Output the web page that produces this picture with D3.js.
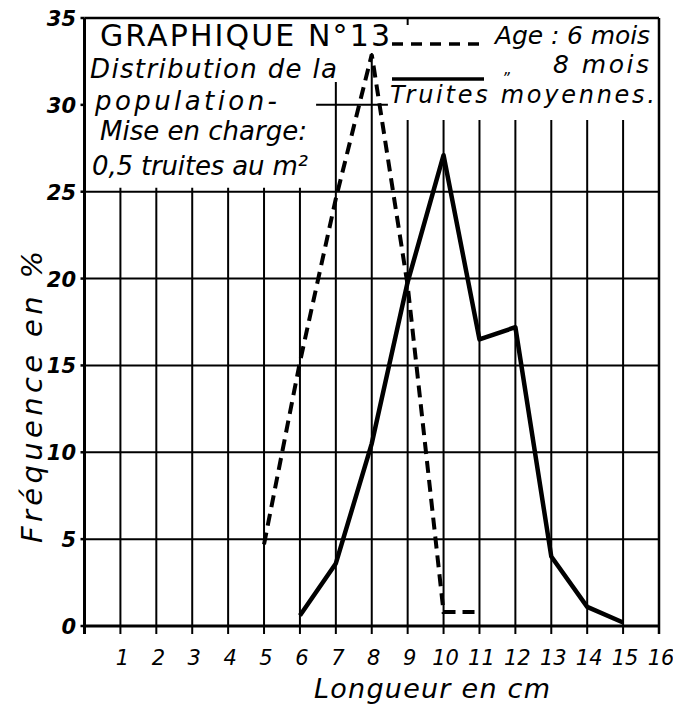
<!DOCTYPE html>
<html>
<head>
<meta charset="utf-8">
<script src="https://cdn.jsdelivr.net/npm/d3@7"></script>
<style>
  body { margin: 0; background: #fff; }
  text { font-family: "DejaVu Sans", sans-serif; fill: #000; }
</style>
</head>
<body>
<div id="chart"></div>
<script>
// data
const xTicks = [1, 2, 3, 4, 5, 6, 7, 8, 9, 10, 11, 12, 13, 14, 15, 16];
const yTicks = [0, 5, 10, 15, 20, 25, 30, 35];

// Age 6 mois (dashed)
const len6 = [5, 6, 7, 8, 9, 10, 11];
const freq6 = [4.7, 15.2, 24.6, 32.9, 19.6, 0.8, 0.8];

// Age 8 mois (solid)
const len8 = [6, 7, 8, 9, 10, 11, 12, 13, 14, 15];
const freq8 = [0.6, 3.6, 10.5, 19.8, 27.1, 16.5, 17.2, 4.0, 1.1, 0.2];

const titleLines = ["Distribution de la", "population-", "Mise en charge:", "0,5 truites au m²"];

const width = 673, height = 706;

const svg = d3.select("#chart").append("svg")
       .attr("width", width)
       .attr("height", height);

const x = d3.scaleLinear().domain([0, 16]).range([84.5, 659]);
const y = d3.scaleLinear().domain([0, 35]).range([626, 18]);

const grid = svg.append("g").attr("stroke", "#000").attr("fill", "none");

// horizontal grid lines 0..25
grid.selectAll(".hline")
       .data(yTicks.filter(d => d <= 25))
       .enter().append("line")
       .attr("x1", x(0)).attr("x2", x(16))
       .attr("y1", d => y(d)).attr("y2", d => y(d))
       .attr("stroke-width", d => d === 0 ? 3 : 2);

// partial line at 30 and top border
grid.append("line")
       .attr("x1", x(6.45)).attr("x2", x(8.45))
       .attr("y1", y(30)).attr("y2", y(30))
       .attr("stroke-width", 2);
grid.append("line")
       .attr("x1", x(0)).attr("x2", x(16))
       .attr("y1", y(35)).attr("y2", y(35))
       .attr("stroke-width", 2.5);

// vertical grid lines, tops differ because of the title and legend
const vTop = d => {
       if (d <= 6) return y(25) - 4;
       if (d === 7) return 82;
       if (d === 8) return 53;
       if (d === 16) return y(35);
       return 120;
};
grid.selectAll(".vline")
       .data(xTicks)
       .enter().append("line")
       .attr("x1", d => x(d)).attr("x2", d => x(d))
       .attr("y1", vTop)
       .attr("y2", y(0) + 8)
       .attr("stroke-width", d => d === 16 ? 2.5 : 2);

// small stub on top border at 9
grid.append("line")
       .attr("x1", x(9)).attr("x2", x(9))
       .attr("y1", y(35)).attr("y2", y(35) + 7)
       .attr("stroke-width", 2);

// y axis
grid.append("line")
       .attr("x1", x(0)).attr("x2", x(0))
       .attr("y1", y(35)).attr("y2", y(0) + 8)
       .attr("stroke-width", 3);

// y tick marks
grid.selectAll(".ytick")
       .data(yTicks)
       .enter().append("line")
       .attr("x1", x(0) - 4).attr("x2", x(0))
       .attr("y1", d => y(d)).attr("y2", d => y(d))
       .attr("stroke-width", 2.5);

// tick labels
svg.append("g").selectAll("text")
       .data(yTicks)
       .enter().append("text")
       .attr("x", 76)
       .attr("y", d => y(d) + 8)
       .attr("text-anchor", "end")
       .style("font-size", "21px")
       .style("font-style", "italic")
       .style("font-weight", "bold")
       .text(d => d);

svg.append("g").selectAll("text")
       .data(xTicks)
       .enter().append("text")
       .attr("x", d => x(d) + 2)
       .attr("y", 665)
       .attr("text-anchor", "middle")
       .style("font-size", "21px")
       .style("font-style", "italic")
       .text(d => d);

// axis titles
svg.append("text")
       .attr("x", 432).attr("y", 698)
       .attr("text-anchor", "middle")
       .style("font-size", "27px")
       .style("font-style", "italic")
       .attr("textLength", 236)
       .text("Longueur en cm");

svg.append("text")
       .attr("transform", "translate(42, 397) rotate(-90)")
       .attr("text-anchor", "middle")
       .style("font-size", "29px")
       .style("font-style", "italic")
       .attr("textLength", 292)
       .text("Fréquence en %");

// lines
const line = d3.line().x(d => x(d[0])).y(d => y(d[1]));

svg.append("path")
       .datum(d3.zip(len6, freq6))
       .attr("d", line)
       .attr("fill", "none")
       .attr("stroke", "#000")
       .attr("stroke-width", 4)
       .attr("stroke-dasharray", "12,7");

svg.append("path")
       .datum(d3.zip(len8, freq8))
       .attr("d", line)
       .attr("fill", "none")
       .attr("stroke", "#000")
       .attr("stroke-width", 4.5)
       .attr("stroke-linejoin", "round");

// title block
svg.append("text")
       .attr("x", 100).attr("y", 46)
       .style("font-size", "30px")
       .attr("textLength", 290)
       .attr("lengthAdjust", "spacing")
       .text("GRAPHIQUE N°13");

const lineY = [78, 110, 140, 175];
const lineX = [90, 95, 100, 92];
const lineW = [247, 182, 207, 216];
svg.append("g").selectAll("text")
       .data(titleLines)
       .enter().append("text")
       .attr("x", (d, i) => lineX[i])
       .attr("y", (d, i) => lineY[i])
       .attr("textLength", (d, i) => lineW[i])
       .style("font-size", "26px")
       .style("font-style", "italic")
       .text(d => d);

// legend
svg.append("line")
       .attr("x1", 392).attr("x2", 484)
       .attr("y1", 44).attr("y2", 44)
       .attr("stroke", "#000").attr("stroke-width", 3.5)
       .attr("stroke-dasharray", "11,8");
svg.append("line")
       .attr("x1", 392).attr("x2", 484)
       .attr("y1", 79).attr("y2", 79)
       .attr("stroke", "#000").attr("stroke-width", 3.5);

const legendText = svg.append("g")
       .style("font-size", "25px")
       .style("font-style", "italic");
legendText.append("text").attr("x", 504).attr("y", 74).style("font-size", "15px").text("\u201E");
legendText.append("text").attr("x", 495).attr("y", 44).attr("textLength", 155).text("Age : 6 mois");
legendText.append("text").attr("x", 553).attr("y", 73).attr("textLength", 96).text("8 mois");
legendText.append("text").attr("x", 390).attr("y", 103).attr("textLength", 265)
       .style("font-size", "24px").text("Truites moyennes.");
</script>
</body>
</html>
